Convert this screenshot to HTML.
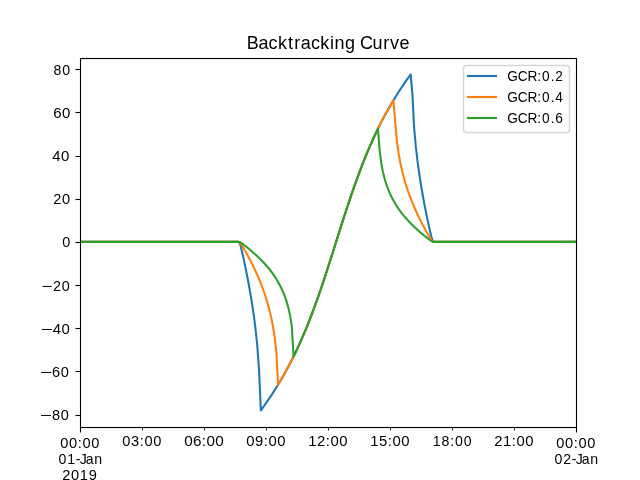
<!DOCTYPE html>
<html><head><meta charset="utf-8"><title>Backtracking Curve</title>
<style>html,body{margin:0;padding:0;background:#fff;width:640px;height:480px;overflow:hidden} svg{display:block} text{font-family:"Liberation Sans", sans-serif}</style>
</head><body>
<svg width="640" height="480" viewBox="0 0 640 480">
<defs><clipPath id="ax"><rect x="80" y="57.6" width="497" height="369.6"/></clipPath></defs>
<rect width="640" height="480" fill="#fff"/>
<g clip-path="url(#ax)">
<polyline points="80.00,241.88 81.72,241.88 83.44,241.88 85.17,241.88 86.89,241.88 88.61,241.88 90.33,241.88 92.06,241.88 93.78,241.88 95.50,241.88 97.22,241.88 98.94,241.88 100.67,241.88 102.39,241.88 104.11,241.88 105.83,241.88 107.56,241.88 109.28,241.88 111.00,241.88 112.72,241.88 114.44,241.88 116.17,241.88 117.89,241.88 119.61,241.88 121.33,241.88 123.06,241.88 124.78,241.88 126.50,241.88 128.22,241.88 129.94,241.88 131.67,241.88 133.39,241.88 135.11,241.88 136.83,241.88 138.56,241.88 140.28,241.88 142.00,241.88 143.72,241.88 145.44,241.88 147.17,241.88 148.89,241.88 150.61,241.88 152.33,241.88 154.06,241.88 155.78,241.88 157.50,241.88 159.22,241.88 160.94,241.88 162.67,241.88 164.39,241.88 166.11,241.88 167.83,241.88 169.56,241.88 171.28,241.88 173.00,241.88 174.72,241.88 176.44,241.88 178.17,241.88 179.89,241.88 181.61,241.88 183.33,241.88 185.06,241.88 186.78,241.88 188.50,241.88 190.22,241.88 191.94,241.88 193.67,241.88 195.39,241.88 197.11,241.88 198.83,241.88 200.56,241.88 202.28,241.88 204.00,241.88 205.72,241.88 207.44,241.88 209.17,241.88 210.89,241.88 212.61,241.88 214.33,241.88 216.06,241.88 217.78,241.88 219.50,241.88 221.22,241.88 222.94,241.88 224.67,241.88 226.39,241.88 228.11,241.88 229.83,241.88 231.56,241.88 233.28,241.88 235.00,241.88 236.72,241.88 238.44,241.88 240.17,244.04 241.89,251.21 243.61,258.84 245.33,266.91 247.06,275.45 248.78,284.51 250.50,294.23 252.22,304.82 253.94,316.62 255.67,330.24 257.39,346.99 259.11,371.03 260.83,410.40 262.56,408.03 264.28,405.63 266.00,403.18 267.72,400.69 269.44,398.15 271.17,395.57 272.89,392.93 274.61,390.25 276.33,387.51 278.06,384.71 279.78,381.85 281.50,378.93 283.22,375.95 284.94,372.89 286.67,369.77 288.39,366.57 290.11,363.29 291.83,359.93 293.56,356.49 295.28,352.96 297.00,349.34 298.72,345.62 300.44,341.82 302.17,337.91 303.89,333.90 305.61,329.80 307.33,325.59 309.06,321.27 310.78,316.85 312.50,312.33 314.22,307.70 315.94,302.97 317.67,298.15 319.39,293.23 321.11,288.22 322.83,283.12 324.56,277.95 326.28,272.70 328.00,267.40 329.72,262.04 331.44,256.64 333.17,251.21 334.89,245.76 336.61,240.30 338.33,234.84 340.06,229.40 341.78,223.98 343.50,218.61 345.22,213.28 346.94,208.01 348.67,202.81 350.39,197.68 352.11,192.63 353.83,187.67 355.56,182.81 357.28,178.04 359.00,173.37 360.72,168.81 362.44,164.35 364.17,159.99 365.89,155.74 367.61,151.59 369.33,147.54 371.06,143.60 372.78,139.75 374.50,136.00 376.22,132.34 377.94,128.77 379.67,125.30 381.39,121.90 383.11,118.59 384.83,115.36 386.56,112.21 388.28,109.13 390.00,106.11 391.72,103.17 393.44,100.28 395.17,97.46 396.89,94.70 398.61,91.99 400.33,89.34 402.06,86.74 403.78,84.18 405.50,81.67 407.22,79.21 408.94,76.78 410.67,74.40 412.39,94.11 414.11,127.62 415.83,146.65 417.56,161.41 419.28,173.90 421.00,184.97 422.72,195.04 424.44,204.37 426.17,213.12 427.89,221.39 429.61,229.21 431.33,236.59 433.06,241.88 434.78,241.88 436.50,241.88 438.22,241.88 439.94,241.88 441.67,241.88 443.39,241.88 445.11,241.88 446.83,241.88 448.56,241.88 450.28,241.88 452.00,241.88 453.72,241.88 455.44,241.88 457.17,241.88 458.89,241.88 460.61,241.88 462.33,241.88 464.06,241.88 465.78,241.88 467.50,241.88 469.22,241.88 470.94,241.88 472.67,241.88 474.39,241.88 476.11,241.88 477.83,241.88 479.56,241.88 481.28,241.88 483.00,241.88 484.72,241.88 486.44,241.88 488.17,241.88 489.89,241.88 491.61,241.88 493.33,241.88 495.06,241.88 496.78,241.88 498.50,241.88 500.22,241.88 501.94,241.88 503.67,241.88 505.39,241.88 507.11,241.88 508.83,241.88 510.56,241.88 512.28,241.88 514.00,241.88 515.72,241.88 517.44,241.88 519.17,241.88 520.89,241.88 522.61,241.88 524.33,241.88 526.06,241.88 527.78,241.88 529.50,241.88 531.22,241.88 532.94,241.88 534.67,241.88 536.39,241.88 538.11,241.88 539.83,241.88 541.56,241.88 543.28,241.88 545.00,241.88 546.72,241.88 548.44,241.88 550.17,241.88 551.89,241.88 553.61,241.88 555.33,241.88 557.06,241.88 558.78,241.88 560.50,241.88 562.22,241.88 563.94,241.88 565.67,241.88 567.39,241.88 569.11,241.88 570.83,241.88 572.56,241.88 574.28,241.88 576.00,241.88" fill="none" stroke="#1f77b4" stroke-width="2.083" stroke-linejoin="round" stroke-linecap="square"/>
<polyline points="80.00,241.88 81.72,241.88 83.44,241.88 85.17,241.88 86.89,241.88 88.61,241.88 90.33,241.88 92.06,241.88 93.78,241.88 95.50,241.88 97.22,241.88 98.94,241.88 100.67,241.88 102.39,241.88 104.11,241.88 105.83,241.88 107.56,241.88 109.28,241.88 111.00,241.88 112.72,241.88 114.44,241.88 116.17,241.88 117.89,241.88 119.61,241.88 121.33,241.88 123.06,241.88 124.78,241.88 126.50,241.88 128.22,241.88 129.94,241.88 131.67,241.88 133.39,241.88 135.11,241.88 136.83,241.88 138.56,241.88 140.28,241.88 142.00,241.88 143.72,241.88 145.44,241.88 147.17,241.88 148.89,241.88 150.61,241.88 152.33,241.88 154.06,241.88 155.78,241.88 157.50,241.88 159.22,241.88 160.94,241.88 162.67,241.88 164.39,241.88 166.11,241.88 167.83,241.88 169.56,241.88 171.28,241.88 173.00,241.88 174.72,241.88 176.44,241.88 178.17,241.88 179.89,241.88 181.61,241.88 183.33,241.88 185.06,241.88 186.78,241.88 188.50,241.88 190.22,241.88 191.94,241.88 193.67,241.88 195.39,241.88 197.11,241.88 198.83,241.88 200.56,241.88 202.28,241.88 204.00,241.88 205.72,241.88 207.44,241.88 209.17,241.88 210.89,241.88 212.61,241.88 214.33,241.88 216.06,241.88 217.78,241.88 219.50,241.88 221.22,241.88 222.94,241.88 224.67,241.88 226.39,241.88 228.11,241.88 229.83,241.88 231.56,241.88 233.28,241.88 235.00,241.88 236.72,241.88 238.44,241.88 240.17,242.69 241.89,245.38 243.61,248.22 245.33,251.18 247.06,254.26 248.78,257.45 250.50,260.74 252.22,264.14 253.94,267.67 255.67,271.34 257.39,275.17 259.11,279.19 260.83,283.43 262.56,287.94 264.28,292.76 266.00,297.99 267.72,303.71 269.44,310.10 271.17,317.37 272.89,325.96 274.61,336.70 276.33,352.02 278.06,384.71 279.78,381.85 281.50,378.93 283.22,375.95 284.94,372.89 286.67,369.77 288.39,366.57 290.11,363.29 291.83,359.93 293.56,356.49 295.28,352.96 297.00,349.34 298.72,345.62 300.44,341.82 302.17,337.91 303.89,333.90 305.61,329.80 307.33,325.59 309.06,321.27 310.78,316.85 312.50,312.33 314.22,307.70 315.94,302.97 317.67,298.15 319.39,293.23 321.11,288.22 322.83,283.12 324.56,277.95 326.28,272.70 328.00,267.40 329.72,262.04 331.44,256.64 333.17,251.21 334.89,245.76 336.61,240.30 338.33,234.84 340.06,229.40 341.78,223.98 343.50,218.61 345.22,213.28 346.94,208.01 348.67,202.81 350.39,197.68 352.11,192.63 353.83,187.67 355.56,182.81 357.28,178.04 359.00,173.37 360.72,168.81 362.44,164.35 364.17,159.99 365.89,155.74 367.61,151.59 369.33,147.54 371.06,143.60 372.78,139.75 374.50,136.00 376.22,132.34 377.94,128.77 379.67,125.30 381.39,121.90 383.11,118.59 384.83,115.36 386.56,112.21 388.28,109.13 390.00,106.11 391.72,103.17 393.44,100.28 395.17,121.25 396.89,141.27 398.61,153.49 400.33,162.86 402.06,170.63 403.78,177.36 405.50,183.34 407.22,188.77 408.94,193.76 410.67,198.39 412.39,202.74 414.11,206.85 415.83,210.76 417.56,214.50 419.28,218.08 421.00,221.53 422.72,224.87 424.44,228.10 426.17,231.23 427.89,234.25 429.61,237.14 431.33,239.90 433.06,241.88 434.78,241.88 436.50,241.88 438.22,241.88 439.94,241.88 441.67,241.88 443.39,241.88 445.11,241.88 446.83,241.88 448.56,241.88 450.28,241.88 452.00,241.88 453.72,241.88 455.44,241.88 457.17,241.88 458.89,241.88 460.61,241.88 462.33,241.88 464.06,241.88 465.78,241.88 467.50,241.88 469.22,241.88 470.94,241.88 472.67,241.88 474.39,241.88 476.11,241.88 477.83,241.88 479.56,241.88 481.28,241.88 483.00,241.88 484.72,241.88 486.44,241.88 488.17,241.88 489.89,241.88 491.61,241.88 493.33,241.88 495.06,241.88 496.78,241.88 498.50,241.88 500.22,241.88 501.94,241.88 503.67,241.88 505.39,241.88 507.11,241.88 508.83,241.88 510.56,241.88 512.28,241.88 514.00,241.88 515.72,241.88 517.44,241.88 519.17,241.88 520.89,241.88 522.61,241.88 524.33,241.88 526.06,241.88 527.78,241.88 529.50,241.88 531.22,241.88 532.94,241.88 534.67,241.88 536.39,241.88 538.11,241.88 539.83,241.88 541.56,241.88 543.28,241.88 545.00,241.88 546.72,241.88 548.44,241.88 550.17,241.88 551.89,241.88 553.61,241.88 555.33,241.88 557.06,241.88 558.78,241.88 560.50,241.88 562.22,241.88 563.94,241.88 565.67,241.88 567.39,241.88 569.11,241.88 570.83,241.88 572.56,241.88 574.28,241.88 576.00,241.88" fill="none" stroke="#ff7f0e" stroke-width="2.083" stroke-linejoin="round" stroke-linecap="square"/>
<polyline points="80.00,241.88 81.72,241.88 83.44,241.88 85.17,241.88 86.89,241.88 88.61,241.88 90.33,241.88 92.06,241.88 93.78,241.88 95.50,241.88 97.22,241.88 98.94,241.88 100.67,241.88 102.39,241.88 104.11,241.88 105.83,241.88 107.56,241.88 109.28,241.88 111.00,241.88 112.72,241.88 114.44,241.88 116.17,241.88 117.89,241.88 119.61,241.88 121.33,241.88 123.06,241.88 124.78,241.88 126.50,241.88 128.22,241.88 129.94,241.88 131.67,241.88 133.39,241.88 135.11,241.88 136.83,241.88 138.56,241.88 140.28,241.88 142.00,241.88 143.72,241.88 145.44,241.88 147.17,241.88 148.89,241.88 150.61,241.88 152.33,241.88 154.06,241.88 155.78,241.88 157.50,241.88 159.22,241.88 160.94,241.88 162.67,241.88 164.39,241.88 166.11,241.88 167.83,241.88 169.56,241.88 171.28,241.88 173.00,241.88 174.72,241.88 176.44,241.88 178.17,241.88 179.89,241.88 181.61,241.88 183.33,241.88 185.06,241.88 186.78,241.88 188.50,241.88 190.22,241.88 191.94,241.88 193.67,241.88 195.39,241.88 197.11,241.88 198.83,241.88 200.56,241.88 202.28,241.88 204.00,241.88 205.72,241.88 207.44,241.88 209.17,241.88 210.89,241.88 212.61,241.88 214.33,241.88 216.06,241.88 217.78,241.88 219.50,241.88 221.22,241.88 222.94,241.88 224.67,241.88 226.39,241.88 228.11,241.88 229.83,241.88 231.56,241.88 233.28,241.88 235.00,241.88 236.72,241.88 238.44,241.88 240.17,242.24 241.89,243.44 243.61,244.70 245.33,246.01 247.06,247.37 248.78,248.77 250.50,250.20 252.22,251.67 253.94,253.19 255.67,254.74 257.39,256.34 259.11,257.98 260.83,259.68 262.56,261.45 264.28,263.28 266.00,265.19 267.72,267.18 269.44,269.28 271.17,271.49 272.89,273.83 274.61,276.33 276.33,279.00 278.06,281.89 279.78,285.03 281.50,288.49 283.22,292.34 284.94,296.72 286.67,301.79 288.39,307.87 290.11,315.59 291.83,326.56 293.56,356.49 295.28,352.96 297.00,349.34 298.72,345.62 300.44,341.82 302.17,337.91 303.89,333.90 305.61,329.80 307.33,325.59 309.06,321.27 310.78,316.85 312.50,312.33 314.22,307.70 315.94,302.97 317.67,298.15 319.39,293.23 321.11,288.22 322.83,283.12 324.56,277.95 326.28,272.70 328.00,267.40 329.72,262.04 331.44,256.64 333.17,251.21 334.89,245.76 336.61,240.30 338.33,234.84 340.06,229.40 341.78,223.98 343.50,218.61 345.22,213.28 346.94,208.01 348.67,202.81 350.39,197.68 352.11,192.63 353.83,187.67 355.56,182.81 357.28,178.04 359.00,173.37 360.72,168.81 362.44,164.35 364.17,159.99 365.89,155.74 367.61,151.59 369.33,147.54 371.06,143.60 372.78,139.75 374.50,136.00 376.22,132.34 377.94,128.77 379.67,150.18 381.39,164.06 383.11,172.84 384.83,179.52 386.56,184.97 388.28,189.61 390.00,193.67 391.72,197.29 393.44,200.56 395.17,203.54 396.89,206.30 398.61,208.87 400.33,211.27 402.06,213.54 403.78,215.68 405.50,217.72 407.22,219.66 408.94,221.52 410.67,223.32 412.39,225.04 414.11,226.71 415.83,228.33 417.56,229.90 419.28,231.43 421.00,232.92 422.72,234.37 424.44,235.78 426.17,237.16 427.89,238.49 429.61,239.78 431.33,241.00 433.06,241.88 434.78,241.88 436.50,241.88 438.22,241.88 439.94,241.88 441.67,241.88 443.39,241.88 445.11,241.88 446.83,241.88 448.56,241.88 450.28,241.88 452.00,241.88 453.72,241.88 455.44,241.88 457.17,241.88 458.89,241.88 460.61,241.88 462.33,241.88 464.06,241.88 465.78,241.88 467.50,241.88 469.22,241.88 470.94,241.88 472.67,241.88 474.39,241.88 476.11,241.88 477.83,241.88 479.56,241.88 481.28,241.88 483.00,241.88 484.72,241.88 486.44,241.88 488.17,241.88 489.89,241.88 491.61,241.88 493.33,241.88 495.06,241.88 496.78,241.88 498.50,241.88 500.22,241.88 501.94,241.88 503.67,241.88 505.39,241.88 507.11,241.88 508.83,241.88 510.56,241.88 512.28,241.88 514.00,241.88 515.72,241.88 517.44,241.88 519.17,241.88 520.89,241.88 522.61,241.88 524.33,241.88 526.06,241.88 527.78,241.88 529.50,241.88 531.22,241.88 532.94,241.88 534.67,241.88 536.39,241.88 538.11,241.88 539.83,241.88 541.56,241.88 543.28,241.88 545.00,241.88 546.72,241.88 548.44,241.88 550.17,241.88 551.89,241.88 553.61,241.88 555.33,241.88 557.06,241.88 558.78,241.88 560.50,241.88 562.22,241.88 563.94,241.88 565.67,241.88 567.39,241.88 569.11,241.88 570.83,241.88 572.56,241.88 574.28,241.88 576.00,241.88" fill="none" stroke="#2ca02c" stroke-width="2.083" stroke-linejoin="round" stroke-linecap="square"/>
</g>
<g shape-rendering="crispEdges" fill="#000">
<rect x="79" y="58" width="1" height="370" fill-opacity="0.055"/>
<rect x="81" y="59" width="1" height="368" fill-opacity="0.055"/>
<rect x="575" y="59" width="1" height="368" fill-opacity="0.055"/>
<rect x="577" y="58" width="1" height="370" fill-opacity="0.055"/>
<rect x="80" y="57" width="497" height="1" fill-opacity="0.055"/>
<rect x="81" y="59" width="494" height="1" fill-opacity="0.055"/>
<rect x="81" y="426" width="494" height="1" fill-opacity="0.055"/>
<rect x="80" y="428" width="497" height="1" fill-opacity="0.055"/>
<rect x="80" y="58" width="1" height="370"/>
<rect x="576" y="58" width="1" height="370"/>
<rect x="80" y="58" width="497" height="1"/>
<rect x="80" y="427" width="497" height="1"/>
<rect x="80" y="428" width="1" height="4"/>
<rect x="80" y="432" width="1" height="1" fill-opacity="0.502"/>
<rect x="79" y="429" width="1" height="3" fill-opacity="0.055"/>
<rect x="81" y="429" width="1" height="3" fill-opacity="0.055"/>
<rect x="576" y="428" width="1" height="4"/>
<rect x="576" y="432" width="1" height="1" fill-opacity="0.502"/>
<rect x="575" y="429" width="1" height="3" fill-opacity="0.055"/>
<rect x="577" y="429" width="1" height="3" fill-opacity="0.055"/>
<rect x="142" y="428" width="1" height="1" fill-opacity="0.851"/>
<rect x="142" y="429" width="1" height="1" fill-opacity="0.839"/>
<rect x="142" y="430" width="1" height="1" fill-opacity="0.420"/>
<rect x="204" y="428" width="1" height="1" fill-opacity="0.851"/>
<rect x="204" y="429" width="1" height="1" fill-opacity="0.839"/>
<rect x="204" y="430" width="1" height="1" fill-opacity="0.420"/>
<rect x="266" y="428" width="1" height="1" fill-opacity="0.851"/>
<rect x="266" y="429" width="1" height="1" fill-opacity="0.839"/>
<rect x="266" y="430" width="1" height="1" fill-opacity="0.420"/>
<rect x="328" y="428" width="1" height="1" fill-opacity="0.851"/>
<rect x="328" y="429" width="1" height="1" fill-opacity="0.839"/>
<rect x="328" y="430" width="1" height="1" fill-opacity="0.420"/>
<rect x="390" y="428" width="1" height="1" fill-opacity="0.851"/>
<rect x="390" y="429" width="1" height="1" fill-opacity="0.839"/>
<rect x="390" y="430" width="1" height="1" fill-opacity="0.420"/>
<rect x="452" y="428" width="1" height="1" fill-opacity="0.851"/>
<rect x="452" y="429" width="1" height="1" fill-opacity="0.839"/>
<rect x="452" y="430" width="1" height="1" fill-opacity="0.420"/>
<rect x="514" y="428" width="1" height="1" fill-opacity="0.851"/>
<rect x="514" y="429" width="1" height="1" fill-opacity="0.839"/>
<rect x="514" y="430" width="1" height="1" fill-opacity="0.420"/>
<rect x="76" y="69" width="4" height="1"/>
<rect x="75" y="69" width="1" height="1" fill-opacity="0.502"/>
<rect x="76" y="68" width="3" height="1" fill-opacity="0.055"/>
<rect x="76" y="70" width="3" height="1" fill-opacity="0.055"/>
<rect x="75" y="68" width="1" height="1" fill-opacity="0.027"/>
<rect x="75" y="70" width="1" height="1" fill-opacity="0.027"/>
<rect x="76" y="112" width="4" height="1"/>
<rect x="75" y="112" width="1" height="1" fill-opacity="0.502"/>
<rect x="76" y="111" width="3" height="1" fill-opacity="0.055"/>
<rect x="76" y="113" width="3" height="1" fill-opacity="0.055"/>
<rect x="75" y="111" width="1" height="1" fill-opacity="0.027"/>
<rect x="75" y="113" width="1" height="1" fill-opacity="0.027"/>
<rect x="76" y="156" width="4" height="1"/>
<rect x="75" y="156" width="1" height="1" fill-opacity="0.502"/>
<rect x="76" y="155" width="3" height="1" fill-opacity="0.055"/>
<rect x="76" y="157" width="3" height="1" fill-opacity="0.055"/>
<rect x="75" y="155" width="1" height="1" fill-opacity="0.027"/>
<rect x="75" y="157" width="1" height="1" fill-opacity="0.027"/>
<rect x="76" y="199" width="4" height="1"/>
<rect x="75" y="199" width="1" height="1" fill-opacity="0.502"/>
<rect x="76" y="198" width="3" height="1" fill-opacity="0.055"/>
<rect x="76" y="200" width="3" height="1" fill-opacity="0.055"/>
<rect x="75" y="198" width="1" height="1" fill-opacity="0.027"/>
<rect x="75" y="200" width="1" height="1" fill-opacity="0.027"/>
<rect x="76" y="242" width="4" height="1"/>
<rect x="75" y="242" width="1" height="1" fill-opacity="0.502"/>
<rect x="76" y="241" width="3" height="1" fill-opacity="0.055"/>
<rect x="76" y="243" width="3" height="1" fill-opacity="0.055"/>
<rect x="75" y="241" width="1" height="1" fill-opacity="0.027"/>
<rect x="75" y="243" width="1" height="1" fill-opacity="0.027"/>
<rect x="76" y="285" width="4" height="1"/>
<rect x="75" y="285" width="1" height="1" fill-opacity="0.502"/>
<rect x="76" y="284" width="3" height="1" fill-opacity="0.055"/>
<rect x="76" y="286" width="3" height="1" fill-opacity="0.055"/>
<rect x="75" y="284" width="1" height="1" fill-opacity="0.027"/>
<rect x="75" y="286" width="1" height="1" fill-opacity="0.027"/>
<rect x="76" y="328" width="4" height="1"/>
<rect x="75" y="328" width="1" height="1" fill-opacity="0.502"/>
<rect x="76" y="327" width="3" height="1" fill-opacity="0.055"/>
<rect x="76" y="329" width="3" height="1" fill-opacity="0.055"/>
<rect x="75" y="327" width="1" height="1" fill-opacity="0.027"/>
<rect x="75" y="329" width="1" height="1" fill-opacity="0.027"/>
<rect x="76" y="371" width="4" height="1"/>
<rect x="75" y="371" width="1" height="1" fill-opacity="0.502"/>
<rect x="76" y="370" width="3" height="1" fill-opacity="0.055"/>
<rect x="76" y="372" width="3" height="1" fill-opacity="0.055"/>
<rect x="75" y="370" width="1" height="1" fill-opacity="0.027"/>
<rect x="75" y="372" width="1" height="1" fill-opacity="0.027"/>
<rect x="76" y="415" width="4" height="1"/>
<rect x="75" y="415" width="1" height="1" fill-opacity="0.502"/>
<rect x="76" y="414" width="3" height="1" fill-opacity="0.055"/>
<rect x="76" y="416" width="3" height="1" fill-opacity="0.055"/>
<rect x="75" y="414" width="1" height="1" fill-opacity="0.027"/>
<rect x="75" y="416" width="1" height="1" fill-opacity="0.027"/>
</g>
<rect x="463.5" y="65.5" width="106" height="67" rx="2.78" fill="#fff" fill-opacity="0.8" stroke="rgb(214,214,214)" stroke-width="1.4"/>
<rect x="467" y="75" width="30" height="2" fill="#1f77b4"/>
<rect x="466" y="75" width="1" height="2" fill="#1f77b4" fill-opacity="0.07"/>
<rect x="467" y="74" width="30" height="1" fill="#1f77b4" fill-opacity="0.07"/>
<rect x="467" y="77" width="30" height="1" fill="#1f77b4" fill-opacity="0.07"/>
<rect x="467" y="96" width="30" height="2" fill="#ff7f0e"/>
<rect x="466" y="96" width="1" height="2" fill="#ff7f0e" fill-opacity="0.07"/>
<rect x="467" y="95" width="30" height="1" fill="#ff7f0e" fill-opacity="0.07"/>
<rect x="467" y="98" width="30" height="1" fill="#ff7f0e" fill-opacity="0.07"/>
<rect x="467" y="117" width="30" height="2" fill="#2ca02c"/>
<rect x="466" y="117" width="1" height="2" fill="#2ca02c" fill-opacity="0.07"/>
<rect x="467" y="116" width="30" height="1" fill="#2ca02c" fill-opacity="0.07"/>
<rect x="467" y="119" width="30" height="1" fill="#2ca02c" fill-opacity="0.07"/>
<g font-family="Liberation Sans, sans-serif" fill="#000" style="will-change:transform">
<text transform="translate(59.81 447.57) scale(0.9830 1)" x="0.35 9.33 18.27 23.07 32.05" y="0" font-size="14.90">00:00</text>
<text transform="translate(121.81 445.65) scale(0.9830 1)" x="0.35 9.33 18.27 23.07 32.05" y="0" font-size="14.90">03:00</text>
<text transform="translate(184.01 445.72) scale(1.0480 1)" x="0.14 8.57 17.05 21.45 29.88" y="0" font-size="14.60">06:00</text>
<text transform="translate(245.91 445.65) scale(1.0180 1)" x="0.27 8.94 17.61 22.20 30.88" y="0" font-size="14.60">09:00</text>
<text transform="translate(307.91 445.70) scale(1.0180 1)" x="0.27 8.94 17.61 22.20 30.88" y="0" font-size="14.60">12:00</text>
<text transform="translate(369.91 445.60) scale(1.0180 1)" x="0.27 8.94 17.61 22.20 30.88" y="0" font-size="14.60">15:00</text>
<text transform="translate(432.21 445.60) scale(1.0080 1)" x="0.49 9.24 17.89 22.64 31.40" y="0" font-size="14.00">18:00</text>
<text transform="translate(493.91 445.69) scale(1.0380 1)" x="0.29 8.79 17.28 21.80 30.31" y="0" font-size="14.30">21:00</text>
<text transform="translate(555.81 447.57) scale(0.9830 1)" x="0.35 9.33 18.27 23.07 32.05" y="0" font-size="14.90">00:00</text>
<text transform="translate(57.90 463.86) scale(1.0080 1)" x="0.49 9.24 17.67 21.76 27.61 36.19" y="0" font-size="14.00">01-Jan</text>
<text transform="translate(61.84 479.65) scale(1.0230 1)" x="0.35 8.98 17.61 26.24" y="0" font-size="14.30">2019</text>
<text transform="translate(553.90 463.63) scale(1.0080 1)" x="0.49 9.24 17.67 21.76 27.61 36.19" y="0" font-size="14.00">02-Jan</text>
<text transform="translate(52.92 74.56) scale(1.0080 1)" x="0.49 9.24" y="0" font-size="14.00">80</text>
<text transform="translate(52.92 117.72) scale(1.0480 1)" x="0.25 8.67" y="0" font-size="14.30">60</text>
<text transform="translate(51.92 160.59) scale(1.0480 1)" x="0.25 8.67" y="0" font-size="14.30">40</text>
<text transform="translate(52.82 203.68) scale(1.0230 1)" x="0.35 8.98" y="0" font-size="14.30">20</text>
<text transform="translate(61.75 246.71) scale(1.0080 1)" x="0.42" y="0" font-size="14.30">0</text>
<text transform="translate(40.90 290.66) scale(1.0080 1)" x="0.27 11.95 20.71" y="0" font-size="14.30"><tspan textLength="11.00" lengthAdjust="spacingAndGlyphs">−</tspan>20</text>
<text transform="translate(40.80 333.61) scale(1.0680 1)" x="-0.31 11.13 19.39" y="0" font-size="14.00"><tspan textLength="11.50" lengthAdjust="spacingAndGlyphs">−</tspan>40</text>
<text transform="translate(40.00 376.73) scale(1.0230 1)" x="-0.32 11.72 20.35" y="0" font-size="14.30"><tspan textLength="12.00" lengthAdjust="spacingAndGlyphs">−</tspan>60</text>
<text transform="translate(39.90 419.69) scale(1.0380 1)" x="-0.15 11.56 20.06" y="0" font-size="14.00"><tspan textLength="11.50" lengthAdjust="spacingAndGlyphs">−</tspan>80</text>
<text transform="translate(246.94 48.62) scale(0.9950 1)" x="-0.31 11.54 21.76 31.19 41.32 47.53 54.06 64.29 73.72 83.39 87.98 98.58 109.06 113.52 126.16 136.91 143.77 153.35" y="0" font-size="18.10">Backtracking Curve</text>
<text transform="translate(507.12 80.72) scale(0.9780 1)" x="0.05 10.89 20.77 30.82 35.77 44.49 49.31" y="0" font-size="14.00">GCR:0.2</text>
<text transform="translate(507.12 101.69) scale(0.9780 1)" x="0.05 10.89 20.77 30.82 35.77 44.49 49.31" y="0" font-size="14.00">GCR:0.4</text>
<text transform="translate(507.12 122.51) scale(0.9780 1)" x="0.05 10.89 20.77 30.82 35.77 44.49 49.31" y="0" font-size="14.00">GCR:0.6</text>
</g>
</svg>
</body></html>
